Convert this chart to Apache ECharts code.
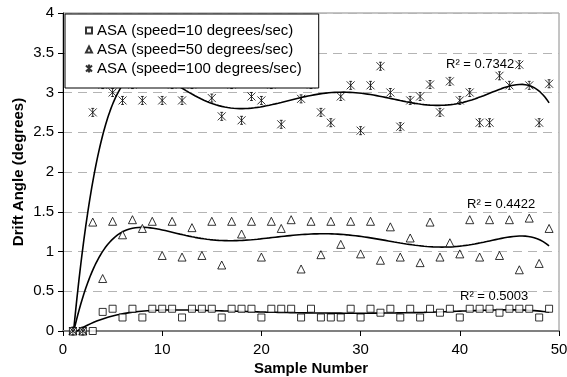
<!DOCTYPE html>
<html><head><meta charset="utf-8">
<script src="https://cdn.jsdelivr.net/npm/echarts@6/dist/echarts.min.js"></script>
<style>html,body{margin:0;padding:0;background:#fff}#c{width:567px;height:377px}</style>
</head><body><div id="c"></div>
<script>
// ---- data ----
const samples = [1,2,3,4,5,6,7,8,9,10,11,12,13,14,15,16,17,18,19,20,21,22,23,24,25,26,27,28,29,30,31,32,33,34,35,36,37,38,39,40,41,42,43,44,45,46,47,48,49];
const speed10 = [0,0,0,0.24,0.28,0.17,0.28,0.17,0.28,0.28,0.28,0.17,0.28,0.28,0.28,0.17,0.28,0.28,0.28,0.17,0.28,0.28,0.28,0.17,0.28,0.17,0.17,0.17,0.28,0.17,0.28,0.23,0.28,0.17,0.28,0.17,0.28,0.23,0.28,0.17,0.28,0.28,0.28,0.23,0.28,0.28,0.28,0.17,0.28];
const speed50 = [0,0,1.37,0.66,1.38,1.21,1.40,1.29,1.38,0.95,1.38,0.93,1.30,0.95,1.38,0.83,1.38,1.22,1.38,0.93,1.38,1.29,1.40,0.78,1.38,0.96,1.38,1.09,1.38,0.97,1.38,0.89,1.31,0.93,1.17,0.86,1.37,0.93,1.11,0.97,1.40,0.93,1.40,0.95,1.40,0.77,1.42,0.85,1.29];
// some of the samples 4..25 lie above 3.05 and are hidden behind the legend box in the reference
const speed100 = [0,0,2.75,3.1,3.0,2.9,3.1,2.9,3.15,2.9,3.1,2.9,3.1,3.2,2.93,2.7,3.1,2.65,2.95,2.9,3.1,2.6,3.15,2.92,3.1,2.75,2.62,2.95,3.09,2.52,3.09,3.33,3.0,2.57,2.9,2.95,3.1,2.75,3.14,2.9,3.0,2.62,2.62,3.21,3.09,3.35,3.09,2.62,3.11];
const seriesNames = ['ASA (speed=10 degrees/sec)','ASA (speed=50 degrees/sec)','ASA (speed=100 degrees/sec)'];
const r2Texts = ['R\u00b2 = 0.5003','R\u00b2 = 0.4422','R\u00b2 = 0.7342'];
const xAxisTitle = 'Sample Number';
const yAxisTitle = 'Drift Angle (degrees)';

// ---- 6th order polynomial trendline (least squares, like the spreadsheet trendline) ----
function polyfit(xs, ys, deg){
  const c = 25, s = 24, m = deg + 1;
  const M = []; for(let i=0;i<m;i++){M.push(new Array(m+1).fill(0));}
  for(let k=0;k<xs.length;k++){
    const t=(xs[k]-c)/s; const p=[]; let v=1;
    for(let i=0;i<m;i++){p.push(v); v*=t;}
    for(let i=0;i<m;i++){ for(let j=0;j<m;j++) M[i][j]+=p[i]*p[j]; M[i][m]+=p[i]*ys[k]; }
  }
  for(let i=0;i<m;i++){
    let piv=i; for(let r=i+1;r<m;r++) if(Math.abs(M[r][i])>Math.abs(M[piv][i])) piv=r;
    const tmp=M[i]; M[i]=M[piv]; M[piv]=tmp;
    for(let r=0;r<m;r++){ if(r===i) continue; const f=M[r][i]/M[i][i]; for(let j=i;j<=m;j++) M[r][j]-=f*M[i][j]; }
  }
  const coef=[]; for(let i=0;i<m;i++) coef.push(M[i][m]/M[i][i]);
  return function(x){ const t=(x-c)/s; let v=0, p=1; for(let i=0;i<m;i++){v+=coef[i]*p; p*=t;} return v; };
}
function trend(ys){
  const f = polyfit(samples, ys, 6);
  const out=[]; const x0=samples[0], x1=samples[samples.length-1];
  for(let x=x0; x<=x1+1e-9; x+=0.1) out.push([x, f(x)]);
  return out;
}
function pts(ys){ return samples.map((x,i)=>[x, ys[i]]); }

const star = 'path://M0,0L10,10M10,0L0,10M5,0L5,10M3.2,0L6.8,0M3.2,10L6.8,10';
const FONT = "'Liberation Sans', Arial, sans-serif";
const chart = echarts.init(document.getElementById('c'), null, {renderer:'canvas'});
const hollow = {color:'#fff', borderColor:'#000', borderWidth:1};
const trendStyle = {color:'#000', width:1.6};
chart.setOption({
  animation:false,
  textStyle:{fontFamily:FONT},
  grid:{left:63,right:8,top:13,bottom:46,show:true,borderColor:'#8a8a8a',borderWidth:1,outerBoundsMode:'none'},
  legend:{
    z:20, zlevel:0,
    orient:'vertical', left:65, top:14, padding:[9,17,12,20], itemGap:4,
    itemWidth:6, itemHeight:6, borderColor:'#000', borderWidth:1, backgroundColor:'#fff',
    textStyle:{fontSize:15,color:'#000',lineHeight:15,fontFamily:FONT},
    data:[{name:seriesNames[0],icon:'rect'},{name:seriesNames[1],icon:'triangle'},{name:seriesNames[2],icon:star}]
  },
  xAxis:{type:'value',min:0,max:50,interval:10,name:xAxisTitle,nameLocation:'middle',nameGap:30,nameMoveOverlap:false,
    nameTextStyle:{fontSize:15,fontWeight:'bold',color:'#000',fontFamily:FONT},
    axisLine:{show:true,onZero:false,lineStyle:{color:'#808080',width:2}},
    axisTick:{show:true,length:5,lineStyle:{color:'#000'}},
    axisLabel:{fontSize:15,color:'#000',margin:11},
    splitLine:{show:false}},
  yAxis:{type:'value',min:0,max:4,interval:0.5,name:yAxisTitle,nameLocation:'middle',nameGap:37,nameMoveOverlap:false,
    nameTextStyle:{fontSize:15,fontWeight:'bold',color:'#000',fontFamily:FONT},
    axisLine:{show:true,lineStyle:{color:'#000',width:1}},
    axisTick:{show:true,length:5,lineStyle:{color:'#000'}},
    axisLabel:{fontSize:15,color:'#000',margin:9},
    splitLine:{show:true,lineStyle:{color:'#b4b4b4',type:[9,6],width:1}}},
  series:[
    {name:seriesNames[0],type:'scatter',symbol:'rect',symbolSize:7,itemStyle:hollow,data:pts(speed10),z:4},
    {name:seriesNames[1],type:'scatter',symbol:'triangle',symbolSize:8,itemStyle:hollow,data:pts(speed50),z:4},
    {name:seriesNames[2],type:'scatter',symbol:star,symbolSize:8,itemStyle:{color:'rgba(0,0,0,0)',borderColor:'#000',borderWidth:1},data:pts(speed100),z:4},
    {name:'t10',type:'line',showSymbol:false,silent:true,lineStyle:trendStyle,data:trend(speed10),z:3},
    {name:'t50',type:'line',showSymbol:false,silent:true,lineStyle:trendStyle,data:trend(speed50),z:3},
    {name:'t100',type:'line',showSymbol:false,silent:true,lineStyle:trendStyle,data:trend(speed100),z:3}
  ],
  graphic:[
    {type:'text',x:460,y:296,z:10,style:{text:r2Texts[0],fill:'#000',font:"13px "+FONT,verticalAlign:'middle',textVerticalAlign:'middle'}},
    {type:'text',x:467,y:204,z:10,style:{text:r2Texts[1],fill:'#000',font:"13px "+FONT,verticalAlign:'middle',textVerticalAlign:'middle'}},
    {type:'text',x:446,y:64,z:10,style:{text:r2Texts[2],fill:'#000',font:"13px "+FONT,verticalAlign:'middle',textVerticalAlign:'middle'}}
  ]
});
</script></body></html>
